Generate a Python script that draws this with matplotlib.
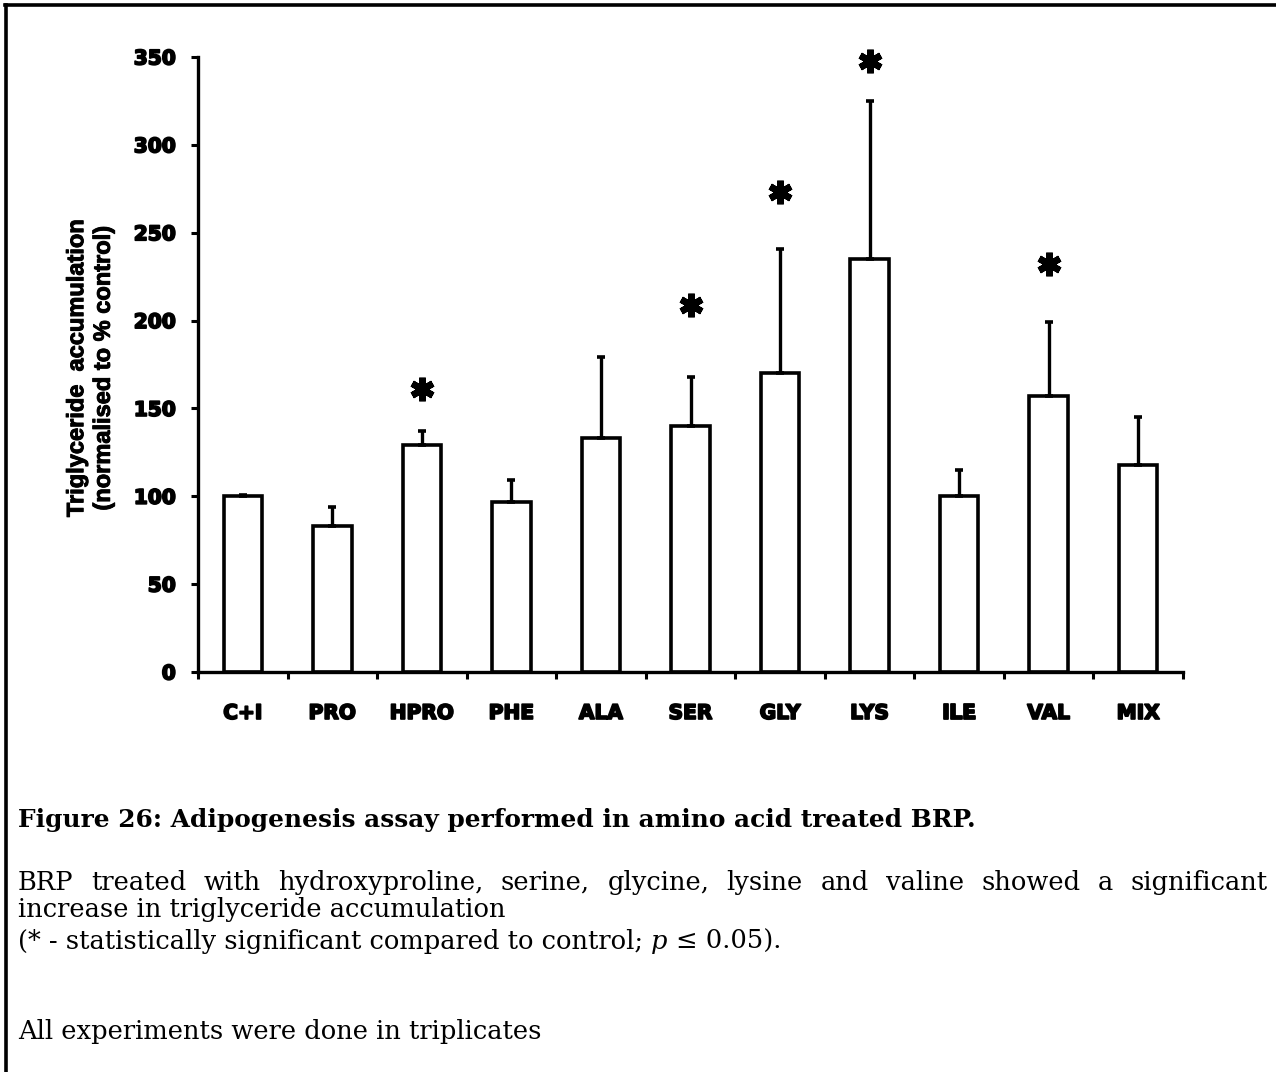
import matplotlib
matplotlib.use("Agg")
import matplotlib.pyplot as plt
import matplotlib.patheffects as pe
from matplotlib.lines import Line2D
import numpy as np

# Triglyceride accumulation per treatment (% of control), upper SD and significance marks
categories = ["C+I", "PRO", "HPRO", "PHE", "ALA", "SER", "GLY", "LYS", "ILE", "VAL", "MIX"]
means = [100, 83, 129, 97, 133, 140, 170, 235, 100, 157, 118]
err_upper = [0.5, 11, 8, 12, 46, 28, 71, 90, 15, 42, 27]
significant = ["HPRO", "SER", "GLY", "LYS", "VAL"]
star_levels = [161, 209, 273, 348, 232]
yticks = [0, 50, 100, 150, 200, 250, 300, 350]

W, H = 1276, 1072
fig = plt.figure(figsize=(W / 100, H / 100), dpi=100)
fig.patch.set_facecolor("white")

ax = fig.add_axes([198 / W, 1 - 672 / H, (1183 - 198) / W, (672 - 57) / H])
xpos = np.arange(len(categories)) + 0.5

ax.bar(xpos, means, width=0.43, color="white", edgecolor="black",
       linewidth=2.6, zorder=2)
ax.errorbar(xpos, means, yerr=[np.zeros(len(means)), err_upper], fmt="none",
            ecolor="black", elinewidth=2.4, capsize=3, capthick=2.6, zorder=3)

sig_x = [xpos[categories.index(c)] for c in significant]
ax.plot(sig_x, star_levels, linestyle="none", marker=(6, 2, 0), markersize=17,
        markeredgewidth=4.8, color="black", zorder=4, clip_on=False)

ax.set_xlim(0, len(categories))
ax.set_ylim(0, 350)
for side in ("top", "right"):
    ax.spines[side].set_visible(False)
for side in ("left", "bottom"):
    ax.spines[side].set_linewidth(2.4)

heavy = [pe.withStroke(linewidth=1.3, foreground="black")]

ax.set_yticks(yticks)
ax.set_yticklabels([str(v) for v in yticks], fontfamily="DejaVu Sans",
                   fontweight="bold", fontsize=14.5)
ax.tick_params(axis="y", direction="out", length=5, width=2.2, pad=11)

ax.set_xticks(np.arange(len(categories) + 1))
ax.set_xticklabels([])
ax.tick_params(axis="x", which="major", direction="out", length=5, width=2.2)
ax.set_xticks(xpos, minor=True)
ax.set_xticklabels(categories, minor=True, fontfamily="DejaVu Sans",
                   fontweight="bold", fontsize=14.5)
ax.tick_params(axis="x", which="minor", length=0, pad=23)

for lbl in ax.get_yticklabels() + ax.get_xticklabels(minor=True):
    lbl.set_path_effects(heavy)

fig.text(90 / W, 1 - 368 / H,
         "Triglyceride  accumulation\n(normalised to % control)",
         rotation=90, ha="center", va="center", multialignment="center",
         fontfamily="Liberation Sans", fontweight="bold", fontsize=17,
         linespacing=1.2,
         path_effects=[pe.withStroke(linewidth=0.7, foreground="black")])

# Page frame lines
fig.add_artist(Line2D([5 / W, 1], [1 - 5 / H, 1 - 5 / H], color="black",
                      linewidth=2.6, transform=fig.transFigure))
fig.add_artist(Line2D([6 / W, 6 / W], [0, 1 - 5 / H], color="black",
                      linewidth=2.6, transform=fig.transFigure))

# Caption
serif = dict(fontfamily="DejaVu Serif", fontsize=18.5, va="baseline",
             color="black")
fig.text(18 / W, 1 - 827 / H,
         "Figure 26: Adipogenesis assay performed in amino acid treated BRP.",
         fontweight="bold", **{**serif, "fontsize": 17.9})

fig.canvas.draw()
renderer = fig.canvas.get_renderer()


def width_px(t):
    return t.get_window_extent(renderer).width


def justified_line(text, x0, x1, ybase, **kw):
    words = text.split()
    items = [fig.text(0, 1 - ybase / H, w, **kw) for w in words]
    widths = [width_px(t) for t in items]
    gap = ((x1 - x0) - sum(widths)) / (len(words) - 1)
    pos = x0
    for t, w in zip(items, widths):
        t.set_x(pos / W)
        pos += w + gap


justified_line("BRP treated with hydroxyproline, serine, glycine, lysine and "
               "valine showed a significant", 18, 1268, 890, **serif)
fig.text(18 / W, 1 - 917 / H, "increase in triglyceride accumulation", **serif)

probe_a = fig.text(0, 0, "a a", **serif)
probe_b = fig.text(0, 0, "aa", **serif)
space = width_px(probe_a) - width_px(probe_b)
probe_a.remove()
probe_b.remove()

pieces = [("(* - statistically significant compared to control;", "normal"),
          ("p", "italic"), ("\u2264 0.05).", "normal")]
pos = 18
for txt, style in pieces:
    t = fig.text(pos / W, 1 - 949 / H, txt, fontstyle=style, **serif)
    pos += width_px(t) + space

fig.text(18 / W, 1 - 1039 / H, "All experiments were done in triplicates",
         **serif)

fig.savefig("out.png", dpi=100, facecolor="white")
